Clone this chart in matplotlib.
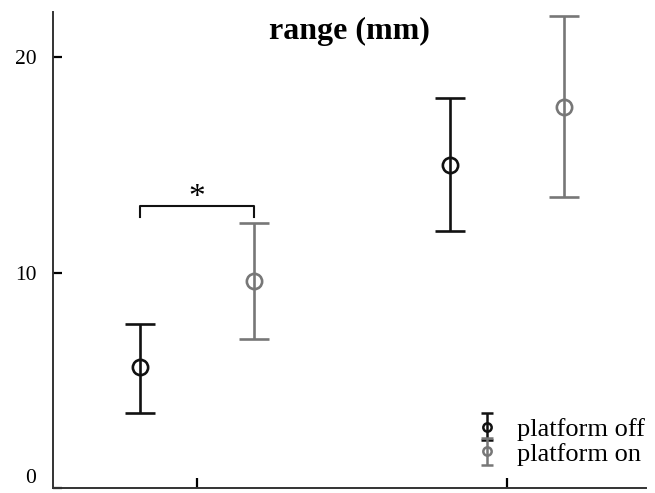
import matplotlib.pyplot as plt

plt.rcParams['font.family'] = ['Liberation Serif', 'DejaVu Serif']

groups = [1, 2]
series = ['platform off', 'platform on']
colors = ['#111111', '#777777']
means = [[5.6, 15.0], [9.6, 17.7]]
upper = [[7.6, 18.1], [12.3, 21.9]]
lower = [[3.5, 11.95], [6.9, 13.5]]
offsets = [-0.185, 0.185]

fig = plt.figure(figsize=(6.55, 4.93), dpi=100)
ax = fig.add_axes([0.081, 0.010, 0.906, 0.966])

handles = []
for i in range(len(series)):
    xs = [g + offsets[i] for g in groups]
    yerr = [[m - l for m, l in zip(means[i], lower[i])],
            [u - m for m, u in zip(means[i], upper[i])]]
    ax.errorbar(xs, means[i], yerr=yerr, fmt='o', color=colors[i],
                mfc='none', mec=colors[i], mew=1.9, ms=11,
                elinewidth=1.9, capsize=10.5, capthick=1.9)
    # small proxy for the legend
    h = ax.errorbar([float('nan')], [float('nan')], yerr=[1], fmt='o',
                    color=colors[i], mfc='none', mec=colors[i], mew=1.8,
                    ms=6, elinewidth=1.8, capsize=4, capthick=1.8,
                    label=series[i])
    handles.append(h)

# significance bracket between the first pair
x1, x2 = groups[0] + offsets[0], groups[0] + offsets[1]
ax.plot([x1, x1, x2, x2], [12.6, 13.1, 13.1, 12.6], color='#111111', lw=1.5)
ax.text((x1 + x2) / 2, 13.45, '*', ha='center', va='center', fontsize=24)

ax.set_xlim(0.535, 2.45)
ax.set_ylim(0, 22.1)
ax.set_xticks(groups)
ax.set_xticklabels([])
ax.set_yticks([0, 10, 20])
ax.tick_params(direction='in', length=6.5, width=1.6, labelsize=15.5, pad=12)
ax.tick_params(axis='x', length=7)
ax.get_yticklabels()[0].set_va('bottom')
for s in ['top', 'right']:
    ax.spines[s].set_visible(False)
for s in ['left', 'bottom']:
    ax.spines[s].set_linewidth(1.4)
    ax.spines[s].set_color('#333333')

ax.set_title('range (mm)', fontsize=23, fontweight='bold', y=0.925)
ax.legend(handles=handles, loc='lower right', bbox_to_anchor=(1.015, 0.025),
          frameon=False, fontsize=19, handlelength=0.9, handletextpad=0.7,
          labelspacing=0.05, borderaxespad=0.0)

fig.savefig('out.png', dpi=100)
